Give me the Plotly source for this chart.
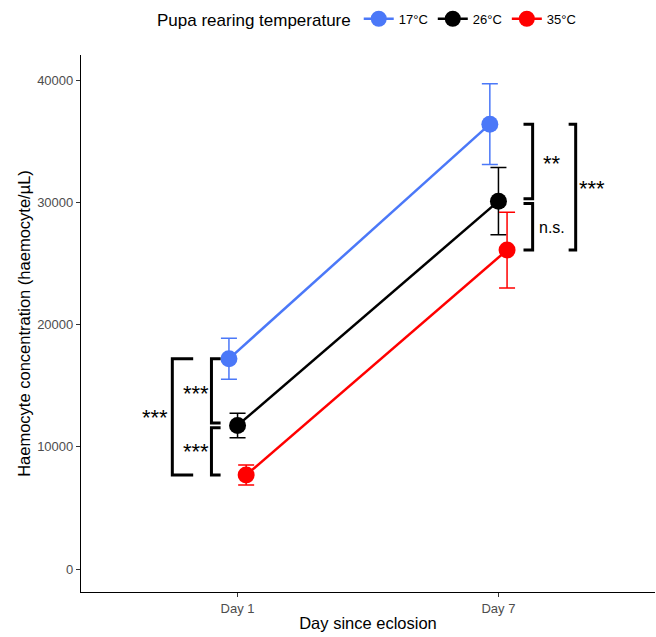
import plotly.graph_objects as go

days = ["Day 1", "Day 7"]
temps = ["17°C", "26°C", "35°C"]
colors = ["#4B78F8", "#000000", "#FF0000"]
mean_17 = [17200, 36400]
err_17 = [1680, 3300]
mean_26 = [11750, 30100]
err_26 = [1000, 2750]
mean_35 = [7690, 26100]
err_35 = [820, 3100]
y_ticks = [0, 10000, 20000, 30000, 40000]
means = [mean_17, mean_26, mean_35]
errs = [err_17, err_26, err_35]
dodge = [-0.033, 0.0, 0.033]
xpos = [1, 2]

fig = go.Figure()
for t, c, m, e, d in zip(temps, colors, means, errs, dodge):
    fig.add_trace(go.Scatter(
        x=[x + d for x in xpos], y=m, name=t, mode="lines+markers",
        line=dict(color=c, width=2.5),
        marker=dict(color=c, size=17),
        error_y=dict(type="data", array=e, color=c, thickness=1.5, width=8),
    ))

LW = 3
def bracket(xv, xa, y0, y1):
    fig.add_shape(type="path",
                  path=f"M {xa} {y0} L {xv} {y0} L {xv} {y1} L {xa} {y1}",
                  line=dict(color="black", width=LW), xref="x", yref="y")

gap = 200
bracket(0.75, 0.83, mean_17[0], mean_35[0])
bracket(0.90, 0.935, mean_17[0], mean_26[0] + gap)
bracket(0.90, 0.935, mean_26[0] - gap, mean_35[0])
bracket(2.131, 2.096, mean_17[1], mean_26[1] + gap)
bracket(2.131, 2.096, mean_26[1] - gap, mean_35[1])
bracket(2.296, 2.269, mean_17[1], mean_35[1])

def lab(x, y, text, size=22, yshift=0):
    fig.add_annotation(x=x, y=y, text=text, showarrow=False, xref="x", yref="y",
                       yshift=yshift, font=dict(size=size, color="black"))

lab(0.685, (mean_17[0] + mean_35[0]) / 2, "***", yshift=-1)
lab(0.84, (mean_17[0] + mean_26[0]) / 2, "***", yshift=-1)
lab(0.84, (mean_26[0] + mean_35[0]) / 2, "***", yshift=-1)
lab(2.207, (mean_17[1] + mean_26[1]) / 2, "**", yshift=-1)
lab(2.205, (mean_26[1] + mean_35[1]) / 2, "n.s.", size=16, yshift=-2)
lab(2.36, (mean_17[1] + mean_35[1]) / 2, "***", yshift=-1)

fig.update_layout(
    width=656, height=637,
    margin=dict(l=81, r=1, t=55, b=45),
    plot_bgcolor="white", paper_bgcolor="white",
    font=dict(family="Liberation Sans, Arial, sans-serif", color="black"),
    legend=dict(orientation="h", x=0.5, xanchor="center", y=0.994, yref="container",
                yanchor="top", font=dict(size=13),
                title=dict(text="Pupa rearing temperature", font=dict(size=17), side="left")),
    xaxis=dict(range=[0.4, 2.6], tickvals=xpos, ticktext=days, showline=True,
               linecolor="black", linewidth=1.2, ticks="outside", ticklen=4,
               tickcolor="#333333", tickfont=dict(size=13, color="#4d4d4d"),
               showgrid=False, zeroline=False, automargin=False,
               title=dict(text="Day since eclosion", font=dict(size=16.5), standoff=2)),
    yaxis=dict(range=[-1880, 42060], tickvals=y_ticks, ticktext=[str(v) for v in y_ticks],
               showline=True, linecolor="black", linewidth=1.2, ticks="outside",
               ticklen=4, tickcolor="#333333", tickfont=dict(size=13, color="#4d4d4d"),
               showgrid=False, zeroline=False, automargin=False,
               title=dict(text="Haemocyte concentration (haemocyte/µL)",
                          font=dict(size=16.5), standoff=2)),
)

fig.write_html("out.html", config={"displayModeBar": False},
               post_script="document.body.style.margin='0';window.dispatchEvent(new Event('resize'));")
